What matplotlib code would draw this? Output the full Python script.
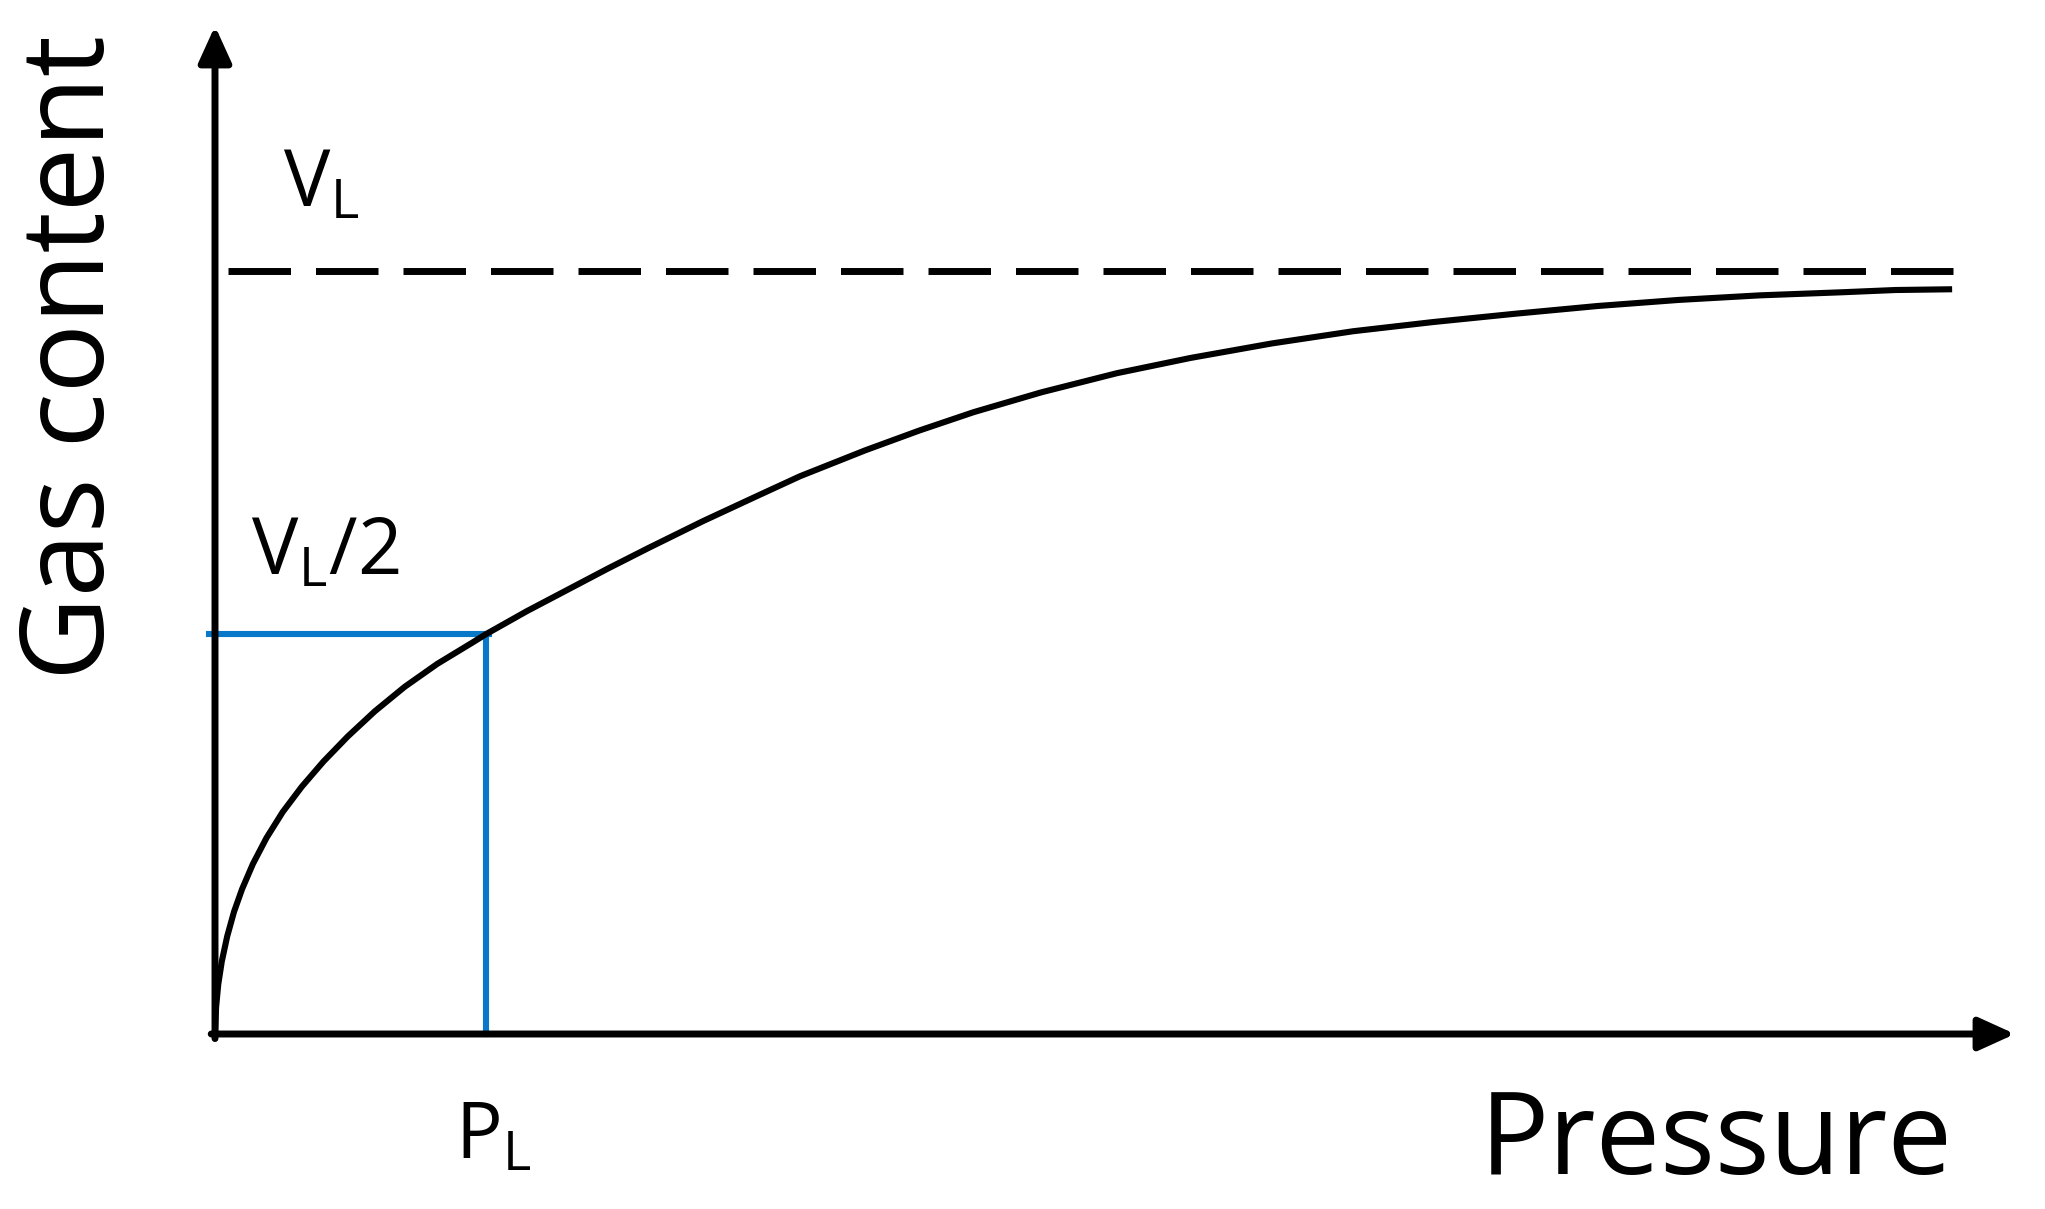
import numpy as np
import matplotlib
matplotlib.use('Agg')
import matplotlib.pyplot as plt

# Langmuir isotherm sketch
# pressure in units of P_L, gas content in units of V_L
pressure = [0.000, 0.004, 0.012, 0.025, 0.045, 0.070, 0.100, 0.140, 0.190, 0.250,
            0.320, 0.400, 0.490, 0.590, 0.700, 0.820, 0.950, 1.000, 1.150, 1.300,
            1.450, 1.600, 1.800, 2.000, 2.159, 2.400, 2.600, 2.800, 3.050, 3.328,
            3.600, 3.900, 4.200, 4.494, 4.800, 5.100, 5.400, 5.700, 6.000, 6.200, 6.410]
gas_content = [0.000, 0.035, 0.065, 0.095, 0.128, 0.160, 0.190, 0.223, 0.257, 0.291,
               0.324, 0.357, 0.390, 0.423, 0.455, 0.485, 0.513, 0.524, 0.554, 0.582,
               0.610, 0.637, 0.672, 0.705, 0.731, 0.765, 0.791, 0.815, 0.841, 0.866,
               0.886, 0.905, 0.921, 0.933, 0.944, 0.954, 0.962, 0.968, 0.972, 0.975, 0.976]

VL = 1.0          # dashed asymptote
PL = 1.0          # Langmuir pressure
VL_half = 0.524   # gas content at P_L
dash_start, dash_end = 0.048, 6.45
x_max, y_max = 6.642, 1.321

plt.rcParams['font.family'] = ['Open Sans', 'DejaVu Sans']
plt.rcParams['mathtext.fontset'] = 'custom'
plt.rcParams['mathtext.rm'] = 'Open Sans'
plt.rcParams['mathtext.it'] = 'Open Sans'

fig = plt.figure(figsize=(20.45, 12.09), dpi=100)
ax = fig.add_axes([215/2045, 1-1034/1209, 1800/2045, 1008/1209])
ax.set_xlim(0, x_max)
ax.set_ylim(0, y_max)
ax.axis('off')

# axes drawn as arrows
arrow = dict(arrowstyle='-|>,head_length=1.1,head_width=0.5', lw=5.0, color='k',
             mutation_scale=20, shrinkA=0, shrinkB=0)
ax.annotate('', xy=(x_max, 0), xytext=(-0.014, 0), arrowprops=arrow, annotation_clip=False)
ax.annotate('', xy=(0, y_max), xytext=(0, -0.006), arrowprops=arrow, annotation_clip=False)

# asymptote V_L
ax.plot([dash_start, dash_end], [VL, VL], color='k', lw=5.0, dashes=(9.0, 3.6),
        solid_capstyle='butt', dash_capstyle='butt')

# P_L / V_L/2 guide lines
ax.plot([-0.022, PL + 0.01], [VL_half, VL_half], color='#0A78C8', lw=4.4, clip_on=False)
ax.plot([PL, PL], [0, VL_half], color='#0A78C8', lw=4.4, clip_on=False)

# isotherm
ax.plot(pressure, gas_content, color='k', lw=4.4, solid_joinstyle='round',
        solid_capstyle='butt', clip_on=False)

# labels
fig.text(74/2045, 1-357/1209, 'Gas content', rotation=90, ha='center', va='center', fontsize=83)
fig.text(1716/2045, 1-1174/1209, 'Pressure', ha='center', va='baseline', fontsize=83)
fig.text(283/2045, 1-206/1209, r'$\mathrm{V}_{\mathrm{L}}$', ha='left', va='baseline', fontsize=56)
fig.text(251/2045, 1-574/1209, r'$\mathrm{V}_{\mathrm{L}}\mathrm{/2}$', ha='left', va='baseline', fontsize=56)
fig.text(455/2045, 1-1158/1209, r'$\mathrm{P}_{\mathrm{L}}$', ha='left', va='baseline', fontsize=56)

fig.savefig('out.png', dpi=100, facecolor='white')
